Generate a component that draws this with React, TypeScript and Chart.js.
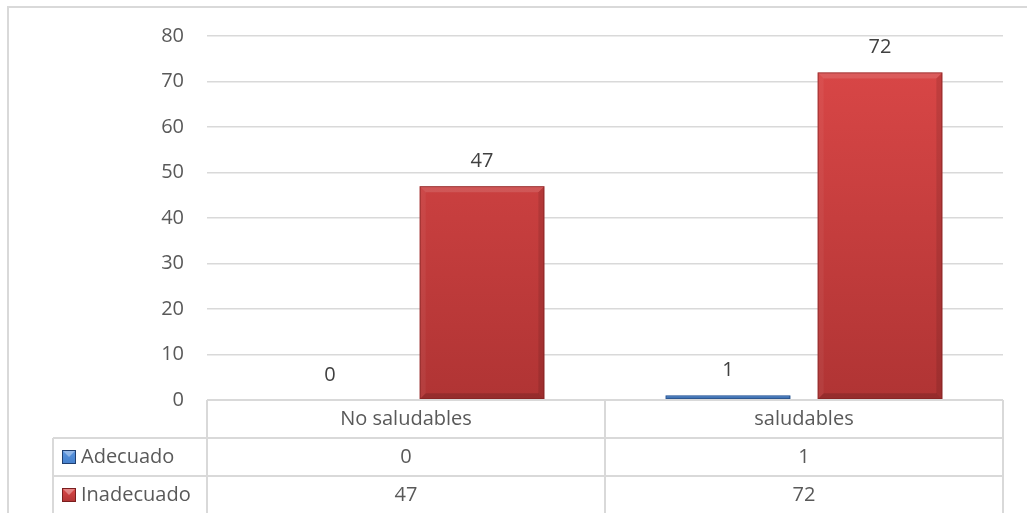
import React, { useEffect, useRef } from 'react';
import { Chart, registerables } from 'chart.js';

Chart.register(...registerables);

const categories = ['No saludables', 'saludables'];
const seriesNames = ['Adecuado', 'Inadecuado'];
const adecuadoValues = [0, 1];
const inadecuadoValues = [47, 72];
const yMin = 0;
const yMax = 80;
const yStep = 10;

const FONT = '"Open Sans", "Noto Sans", sans-serif';
const FONT_SIZE = 20;
const TEXT = '#595959';
const LABEL = '#404040';
const LINE = '#d9d9d9';

const seriesColors = [
  { top: '#5b95e0', bottom: '#4580cc', edge: '#1f3f70' },
  { top: '#dc4848', bottom: '#b03434', edge: '#7a1e1e' },
];

function drawMarker(ctx: CanvasRenderingContext2D, x: number, y: number, s: number, c: { top: string; bottom: string; edge: string }) {
  const g = ctx.createLinearGradient(0, y, 0, y + s);
  g.addColorStop(0, c.top);
  g.addColorStop(1, c.bottom);
  ctx.fillStyle = g;
  ctx.fillRect(x, y, s, s);
  ctx.fillStyle = 'rgba(255,255,255,0.35)';
  ctx.beginPath();
  ctx.moveTo(x, y);
  ctx.lineTo(x + s, y);
  ctx.lineTo(x + s / 2, y + s / 2);
  ctx.closePath();
  ctx.fill();
  ctx.strokeStyle = c.edge;
  ctx.lineWidth = 1;
  ctx.strokeRect(x + 0.5, y + 0.5, s - 1, s - 1);
}

const bevelPlugin = {
  id: 'bevel',
  afterDatasetsDraw(chart: any) {
    const ctx: CanvasRenderingContext2D = chart.ctx;
    chart.data.datasets.forEach((ds: any, di: number) => {
      const meta = chart.getDatasetMeta(di);
      meta.data.forEach((el: any) => {
        const l = el.x - el.width / 2;
        const r = el.x + el.width / 2;
        const t = Math.min(el.y, el.base);
        const b = Math.max(el.y, el.base);
        const h = b - t;
        if (h < 0.5) return;
        const s = Math.min(6, h / 2);
        ctx.save();
        ctx.fillStyle = 'rgba(255,255,255,0.12)';
        ctx.beginPath();
        ctx.moveTo(l, t); ctx.lineTo(r, t); ctx.lineTo(r - s, t + s); ctx.lineTo(l + s, t + s); ctx.closePath(); ctx.fill();
        ctx.fillStyle = 'rgba(255,255,255,0.05)';
        ctx.beginPath();
        ctx.moveTo(l, t); ctx.lineTo(l + s, t + s); ctx.lineTo(l + s, b - s); ctx.lineTo(l, b); ctx.closePath(); ctx.fill();
        ctx.fillStyle = 'rgba(0,0,0,0.10)';
        ctx.beginPath();
        ctx.moveTo(r, t); ctx.lineTo(r, b); ctx.lineTo(r - s, b - s); ctx.lineTo(r - s, t + s); ctx.closePath(); ctx.fill();
        ctx.fillStyle = 'rgba(0,0,0,0.15)';
        ctx.beginPath();
        ctx.moveTo(l, b); ctx.lineTo(r, b); ctx.lineTo(r - s, b - s); ctx.lineTo(l + s, b - s); ctx.closePath(); ctx.fill();
        ctx.strokeStyle = seriesColors[di].edge;
        ctx.globalAlpha = 0.6;
        ctx.lineWidth = 1;
        ctx.strokeRect(l + 0.5, t + 0.5, r - l - 1, h - 1);
        ctx.restore();
      });
    });
  },
};

const dataLabelPlugin = {
  id: 'dataLabels',
  afterDatasetsDraw(chart: any) {
    const ctx: CanvasRenderingContext2D = chart.ctx;
    ctx.save();
    ctx.font = `${FONT_SIZE}px ${FONT}`;
    ctx.fillStyle = LABEL;
    ctx.textAlign = 'center';
    ctx.textBaseline = 'middle';
    chart.data.datasets.forEach((ds: any, di: number) => {
      const meta = chart.getDatasetMeta(di);
      meta.data.forEach((el: any, i: number) => {
        ctx.fillText(String(ds.data[i]), el.x, Math.min(el.y, el.base) - 25);
      });
    });
    ctx.restore();
  },
};

const tablePlugin = {
  id: 'dataTable',
  beforeDraw(chart: any) {
    const ctx: CanvasRenderingContext2D = chart.ctx;
    ctx.save();
    ctx.fillStyle = '#ffffff';
    ctx.fillRect(0, 0, chart.width, chart.height);
    ctx.strokeStyle = LINE;
    ctx.lineWidth = 2;
    ctx.strokeRect(8, 7, chart.width + 20, chart.height + 20);
    ctx.restore();
  },
  afterDraw(chart: any) {
    const ctx: CanvasRenderingContext2D = chart.ctx;
    const area = chart.chartArea;
    const n = chart.data.labels.length;
    const colW = (area.right - area.left) / n;
    const rowH = 38;
    const legendLeft = 53;
    const top = area.bottom;
    const nRows = chart.data.datasets.length;
    ctx.save();
    ctx.strokeStyle = LINE;
    ctx.lineWidth = 2;
    ctx.beginPath();
    ctx.moveTo(area.left, top); ctx.lineTo(area.right, top);
    for (let r = 1; r <= nRows; r++) {
      ctx.moveTo(legendLeft, top + r * rowH); ctx.lineTo(area.right, top + r * rowH);
    }
    const bottom = top + (nRows + 1) * rowH;
    ctx.moveTo(legendLeft, top + rowH); ctx.lineTo(legendLeft, bottom);
    for (let c = 0; c <= n; c++) {
      const x = area.left + c * colW;
      ctx.moveTo(x, top); ctx.lineTo(x, bottom);
    }
    ctx.stroke();

    ctx.font = `${FONT_SIZE}px ${FONT}`;
    ctx.fillStyle = TEXT;
    ctx.textBaseline = 'middle';
    ctx.textAlign = 'center';
    chart.data.labels.forEach((lab: string, i: number) => {
      ctx.fillText(lab, area.left + (i + 0.5) * colW, top + rowH / 2);
    });
    chart.data.datasets.forEach((ds: any, di: number) => {
      const cy = top + (di + 1) * rowH + rowH / 2;
      ds.data.forEach((v: number, i: number) => {
        ctx.textAlign = 'center';
        ctx.fillStyle = TEXT;
        ctx.fillText(String(v), area.left + (i + 0.5) * colW, cy);
      });
      drawMarker(ctx, legendLeft + 9, cy - 7, 14, seriesColors[di]);
      ctx.textAlign = 'left';
      ctx.fillStyle = TEXT;
      ctx.fillText(ds.label, legendLeft + 28, cy);
    });
    ctx.restore();
  },
};

function barGradient(di: number) {
  return (c: any) => {
    const chart = c.chart;
    const area = chart.chartArea;
    if (!area) return seriesColors[di].top;
    const el = c.element;
    const top = el && isFinite(el.y) ? el.y : area.top;
    const g = chart.ctx.createLinearGradient(0, top, 0, area.bottom);
    g.addColorStop(0, seriesColors[di].top);
    g.addColorStop(1, seriesColors[di].bottom);
    return g;
  };
}

export default function App() {
  const ref = useRef<HTMLCanvasElement | null>(null);
  useEffect(() => {
    if (!ref.current) return;
    const chart = new Chart(ref.current, {
      type: 'bar',
      data: {
        labels: categories,
        datasets: [
          {
            label: seriesNames[0],
            data: adecuadoValues,
            backgroundColor: barGradient(0),
            categoryPercentage: 0.764,
            barPercentage: 0.82,
          },
          {
            label: seriesNames[1],
            data: inadecuadoValues,
            backgroundColor: barGradient(1),
            categoryPercentage: 0.764,
            barPercentage: 0.82,
          },
        ],
      },
      options: {
        responsive: false,
        animation: false,
        layout: { padding: { top: 36, right: 24, bottom: 113, left: 0 } },
        plugins: {
          legend: { display: false },
          tooltip: { enabled: false },
        },
        scales: {
          x: { display: false },
          y: {
            min: yMin,
            max: yMax,
            border: { display: false },
            grid: { color: LINE, lineWidth: 1.5, drawTicks: false },
            ticks: {
              stepSize: yStep,
              padding: 23,
              color: TEXT,
              font: { family: FONT, size: FONT_SIZE },
            },
            afterFit: (scale: any) => {
              scale.width = 207;
            },
          },
        },
      },
      plugins: [tablePlugin, bevelPlugin, dataLabelPlugin],
    });
    return () => chart.destroy();
  }, []);
  return (
    <div style={{ position: 'fixed', left: 0, top: 0, width: 1027, height: 513 }}>
      <canvas ref={ref} width={1027} height={513} />
    </div>
  );
}
